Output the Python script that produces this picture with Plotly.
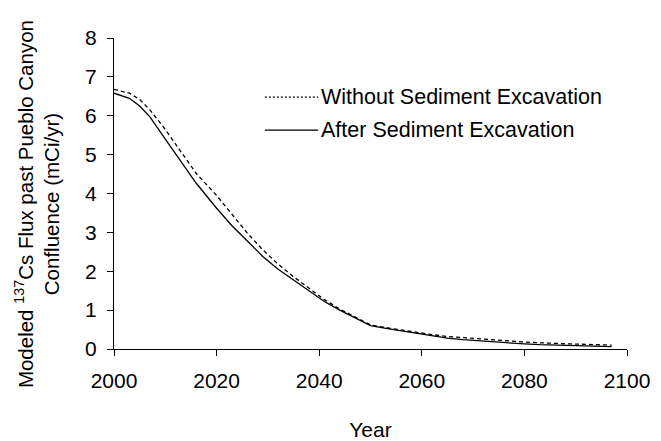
import plotly.graph_objects as go

years = [2000, 2003, 2005, 2007, 2010, 2013, 2016, 2020, 2023, 2026, 2029, 2032,
         2035, 2038, 2041, 2044, 2047, 2050, 2053, 2056, 2059, 2062, 2065, 2068,
         2071, 2074, 2077, 2080, 2083, 2086, 2089, 2092, 2095, 2097]

without_excavation = [6.68, 6.58, 6.42, 6.15, 5.65, 5.08, 4.52, 3.95, 3.45, 2.98, 2.55, 2.18,
                      1.86, 1.56, 1.27, 1.03, 0.82, 0.62, 0.55, 0.49, 0.42, 0.37, 0.32, 0.29,
                      0.26, 0.23, 0.20, 0.18, 0.16, 0.14, 0.13, 0.12, 0.11, 0.10]

after_excavation = [6.58, 6.45, 6.25, 5.97, 5.40, 4.82, 4.27, 3.62, 3.17, 2.78, 2.38, 2.05,
                    1.78, 1.50, 1.22, 1.00, 0.80, 0.60, 0.53, 0.47, 0.40, 0.34, 0.28, 0.24,
                    0.21, 0.19, 0.16, 0.13, 0.11, 0.10, 0.09, 0.08, 0.065, 0.06]

x_ticks = [2000, 2020, 2040, 2060, 2080, 2100]
y_ticks = [0, 1, 2, 3, 4, 5, 6, 7, 8]

FONT = "Liberation Sans, Arial, sans-serif"

fig = go.Figure()
fig.add_trace(go.Scatter(x=years, y=without_excavation, mode="lines",
                         name="Without Sediment Excavation",
                         line=dict(color="black", width=1.3, dash="4px,3px")))
fig.add_trace(go.Scatter(x=years, y=after_excavation, mode="lines",
                         name="After Sediment Excavation",
                         line=dict(color="black", width=1.3)))

# hand-drawn legend, like the original
legend_rows = [("Without Sediment Excavation", "2px,2px", 0.810),
               ("After Sediment Excavation", "solid", 0.704)]
for label, dash, yy in legend_rows:
    fig.add_shape(type="line", xref="paper", yref="paper", x0=0.294, x1=0.398,
                  y0=yy, y1=yy, line=dict(color="black", width=1.3, dash=dash))
    fig.add_annotation(text=label, xref="paper", yref="paper", x=0.400, y=yy,
                       xanchor="left", yanchor="middle", showarrow=False,
                       font=dict(size=21.5, color="black", family=FONT))

# y title as an annotation so it can sit a bit below the plot centre
fig.add_annotation(text="Modeled <sup>137</sup>Cs Flux past Pueblo Canyon<br>Confluence (mCi/yr)",
                   xref="paper", yref="paper", x=-0.15, y=0.466, textangle=-90,
                   xanchor="center", yanchor="middle", showarrow=False,
                   font=dict(size=20.5, color="black", family=FONT))

# the page puts the plot 8px in from the corner, so the margins make up for it
fig.update_layout(
    width=661, height=441,
    margin=dict(l=106, r=42, t=30, b=100),
    plot_bgcolor="white", paper_bgcolor="white",
    showlegend=False,
    font=dict(family=FONT, size=21, color="black"),
    xaxis=dict(range=[2000, 2100], tickvals=x_ticks, showgrid=False, zeroline=False,
               showline=True, linecolor="black", linewidth=1,
               ticks="outside", ticklen=6, tickcolor="black", ticklabelstandoff=7,
               title=dict(text="Year", standoff=31, font=dict(size=21))),
    yaxis=dict(range=[0, 8], tickvals=y_ticks, showgrid=False, zeroline=False,
               showline=True, linecolor="black", linewidth=1,
               ticks="outside", ticklen=6, tickcolor="black", ticklabelstandoff=6),
)

fig.write_html("out.html")
